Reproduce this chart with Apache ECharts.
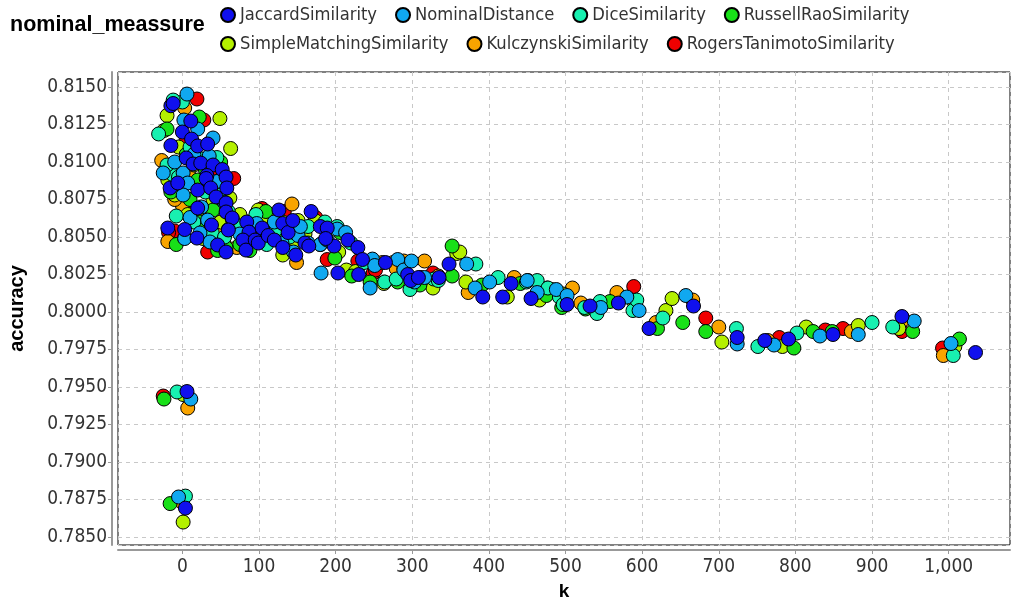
<!DOCTYPE html>
<html>
<head>
<meta charset="utf-8">
<script src="https://cdn.jsdelivr.net/npm/echarts@6/dist/echarts.min.js"></script>
<style>html,body{margin:0;padding:0;background:#fff}#c{width:1012px;height:600px}</style>
</head>
<body>
<div id="c"></div>
<script>
const seriesNames = ['JaccardSimilarity','NominalDistance','DiceSimilarity','RussellRaoSimilarity','SimpleMatchingSimilarity','KulczynskiSimilarity','RogersTanimotoSimilarity'];
const xTicks = [0,100,200,300,400,500,600,700,800,900,1000];
const yTicks = [0.7850,0.7875,0.7900,0.7925,0.7950,0.7975,0.8000,0.8025,0.8050,0.8075,0.8100,0.8125,0.8150];

const jaccard = [[-15,.81375],[-12,.8139],[11,.81273],[0,.8120],[12,.81153],[20,.81107],[33,.8112],[-15,.8111],[5,.81027],[14,.80987],[24,.80993],[40,.8098],[52,.8095],[32,.8091],[-16,.80827],[-6,.8086],[20,.80813],[31,.8089],[37,.80827],[57,.8090],[58,.80827],[44,.80767],[57,.80727],[20,.80693],[57,.80667],[-19,.8056],[65,.80627],[60,.80547],[84,.806],[87,.80533],[19,.80493],[46,.80447],[57,.804],[79,.8048],[83,.80413],[95,.8048],[3,.8055],[38,.8058],[99,.8046],[104,.8056],[112,.8051],[120,.8048],[126,.8068],[131,.8059],[131,.8043],[138,.8053],[144,.8061],[148,.8038],[160,.8046],[165,.8044],[168,.8067],[180,.8057],[189,.8056],[198,.8044],[187,.8049],[203,.8026],[216,.8048],[229,.8043],[230,.8025],[235,.8035],[265,.8033],[294,.8025],[298,.8021],[308,.8023],[335,.8023],[348,.8032],[392,.8010],[418,.8010],[429,.8019],[455,.8009],[502,.8005],[532,.8004],[569,.8006],[609,.7989],[667,.8004],[724,.7983],[760,.7981],[791,.7982],[849,.7985],[939,.7997],[1035,.7973],[6,.7947],[4,.78693]];
const nominal = [[6,.81453],[2,.8128],[20,.8122],[40,.8116],[35,.8104],[-25,.80927],[1,.80927],[7,.8086],[49,.8088],[33,.80613],[23,.80527],[36,.80467],[3,.8049],[10,.8063],[1,.8078],[25,.8070],[55,.8073],[-10,.8100],[15,.8105],[45,.8087],[60,.8055],[75,.8052],[120,.8060],[130,.8046],[97,.8059],[105,.8055],[146,.8053],[151,.8051],[154,.8057],[145,.8040],[164,.8046],[180,.8045],[189,.8048],[202,.80553],[181,.8026],[213,.8053],[248,.80353],[245,.8016],[251,.8031],[281,.8035],[289,.8028],[303,.8020],[299,.8034],[316,.8023],[371,.8032],[382,.8016],[401,.8020],[450,.8021],[463,.8013],[488,.8015],[502,.8011],[546,.8003],[580,.8010],[596,.8001],[657,.8011],[724,.79787],[772,.7978],[832,.7984],[882,.7985],[955,.7994],[1003,.7979],[11,.7942],[-5,.78767]];
const dice = [[-31,.81187],[0,.8140],[-12,.81413],[45,.8103],[-12,.80913],[3,.80493],[39,.80527],[-8,.8064],[10,.8110],[25,.8102],[-20,.8098],[30,.8080],[48,.8078],[15,.8060],[55,.8050],[70,.8058],[60,.8067],[-5,.8090],[85,.8050],[140,.8050],[110,.8045],[96,.8065],[122,.8055],[164,.8057],[186,.8060],[202,.8057],[220,.8046],[237,.8033],[264,.8020],[279,.8022],[297,.8015],[328,.8022],[334,.8021],[383,.8032],[412,.8023],[449,.8020],[463,.8021],[477,.8016],[492,.8010],[497,.8005],[525,.8003],[541,.7999],[545,.8007],[588,.8001],[593,.8008],[627,.7996],[723,.7989],[751,.7977],[802,.7986],[900,.7993],[927,.7990],[1006,.7971],[-7,.79467],[4,.78773]];
const russellRao = [[-20,.8122],[22,.8130],[-8,.8045],[23,.8060],[46,.8041],[57,.8043],[5,.8105],[30,.8095],[-15,.8080],[40,.8068],[10,.8075],[65,.8062],[75,.8045],[35,.8050],[100,.8055],[20,.8088],[50,.8100],[88,.8041],[109,.8067],[127,.8053],[149,.8056],[180,.8045],[206,.8053],[199,.8036],[221,.8024],[245,.8020],[281,.8020],[310,.8018],[352,.8024],[352,.8044],[391,.8018],[441,.8019],[476,.8016],[475,.8011],[495,.8003],[526,.8002],[558,.8007],[620,.7989],[653,.7993],[683,.7987],[798,.7976],[823,.7987],[848,.7987],[953,.7987],[1014,.7982],[-24,.7942],[-16,.78723]];
const simpleMatching = [[-20,.8131],[-24,.8121],[49,.8129],[63,.8109],[-19,.8088],[7,.8065],[18,.8065],[27,.8049],[40,.8075],[62,.8076],[-5,.8110],[15,.8098],[30,.8085],[50,.8060],[-10,.8078],[75,.8065],[90,.8055],[160,.8052],[84,.8049],[97,.8066],[99,.8068],[112,.8063],[131,.8060],[131,.8038],[147,.8048],[151,.8061],[173,.8061],[204,.8040],[214,.8028],[226,.8027],[263,.8019],[289,.8029],[327,.8016],[358,.8039],[362,.8040],[370,.8020],[424,.8010],[451,.8021],[466,.8008],[482,.8015],[497,.8012],[589,.8007],[631,.8001],[639,.8009],[704,.7980],[783,.7977],[814,.7990],[882,.7991],[935,.7989],[1008,.7977],[1,.7945],[1,.7860]];
const kulczynski = [[3,.8136],[-27,.8101],[-18,.8097],[0,.8071],[-19,.8047],[-22,.8094],[10,.8090],[35,.8080],[25,.8062],[55,.8070],[-10,.8075],[45,.8055],[90,.8060],[120,.8050],[143,.8072],[149,.8033],[71,.8043],[261,.8033],[275,.8033],[279,.8029],[289,.8034],[316,.8034],[334,.8024],[373,.8013],[433,.8023],[509,.8016],[520,.8006],[567,.8013],[618,.7993],[666,.8008],[700,.7990],[764,.7981],[873,.7987],[941,.7995],[993,.7971],[7,.7936],[0,.7873]];
const rogersTanimoto = [[19,.8142],[28,.8128],[-10,.8054],[-18,.8053],[5,.8115],[-5,.8085],[40,.8095],[15,.8070],[55,.8045],[85,.8060],[67,.8089],[104,.8069],[133,.8067],[174,.8063],[189,.8035],[27,.8058],[33,.8040],[229,.8034],[249,.8026],[252,.8028],[311,.8023],[327,.8026],[589,.8017],[683,.7996],[779,.7983],[839,.7988],[862,.7989],[939,.7987],[992,.7976],[-25,.7944]];

const seriesData = [jaccard, nominal, dice, russellRao, simpleMatching, kulczynski, rogersTanimoto];
const colors = ['#1010ee','#10a8f0','#18f0b0','#18e018','#b4f000','#f8a400','#f00000'];

const FONT = 'DejaVu Sans Condensed';
const chart = echarts.init(document.getElementById('c'), null, {renderer:'canvas'});
const legendItem = (names, top) => ({
  data: names, left: 220, top: top, padding: 0, orient: 'horizontal',
  icon: 'circle', itemWidth: 14, itemHeight: 14, itemGap: 18,
  textStyle: {fontFamily: FONT, fontSize: 18.2, color: '#333'}
});
chart.setOption({
  animation: false,
  color: colors,
  title: {text: 'nominal_meassure', left: 10, top: 14, padding: 0,
    textStyle: {fontFamily: 'Liberation Sans', fontWeight: 'bold', fontSize: 21.5, color: '#000'}},
  legend: [legendItem(seriesNames.slice(0,4), 6), legendItem(seriesNames.slice(4), 35)],
  grid: {left: 118, right: 2, top: 72, bottom: 55, show: true, borderColor: '#000', borderWidth: 1,
    backgroundColor: '#fff', containLabel: false, outerBoundsMode: 'none'},
  xAxis: {
    type: 'value', min: -84, max: 1080, minInterval: 100, maxInterval: 100, splitNumber: 11,
    offset: 5,
    name: 'k', nameLocation: 'middle', nameGap: 30,
    nameTextStyle: {fontFamily: 'Liberation Sans', fontWeight: 'bold', fontSize: 19, color: '#000'},
    axisLine: {show: true, onZero: false, lineStyle: {color: '#999', width: 2}},
    axisTick: {show: true, length: 4, lineStyle: {color: '#999'}},
    axisLabel: {showMinLabel: false, showMaxLabel: false, fontFamily: FONT, fontSize: 19, color: '#333', margin: 8,
      formatter: v => xTicks.includes(v) ? v.toLocaleString('en-US') : ''},
    splitLine: {show: true, lineStyle: {color: '#c8c8c8', type: [4,4]}}
  },
  yAxis: {
    type: 'value', min: 0.78447, max: 0.8160, minInterval: 0.0025, maxInterval: 0.0025, splitNumber: 12,
    offset: 6,
    name: 'accuracy', nameLocation: 'middle', nameGap: 85,
    nameTextStyle: {fontFamily: 'Liberation Sans', fontWeight: 'bold', fontSize: 20, color: '#000'},
    axisLine: {show: true, onZero: false, lineStyle: {color: '#999', width: 2}},
    axisTick: {show: true, length: 4, lineStyle: {color: '#999'}},
    axisLabel: {showMinLabel: false, showMaxLabel: false, fontFamily: FONT, fontSize: 19, color: '#333', margin: 5,
      formatter: v => yTicks.some(t => Math.abs(t - v) < 1e-7) ? v.toFixed(4) : ''},
    splitLine: {show: true, lineStyle: {color: '#c8c8c8', type: [4,4]}}
  },
  series: seriesNames.map((n, i) => ({
    name: n, type: 'scatter', data: seriesData[i], symbol: 'circle', symbolSize: 14,
    z: 10 - i,
    itemStyle: {color: colors[i], borderColor: '#000', borderWidth: 1, opacity: 1}
  }))
});
</script>
</body>
</html>
